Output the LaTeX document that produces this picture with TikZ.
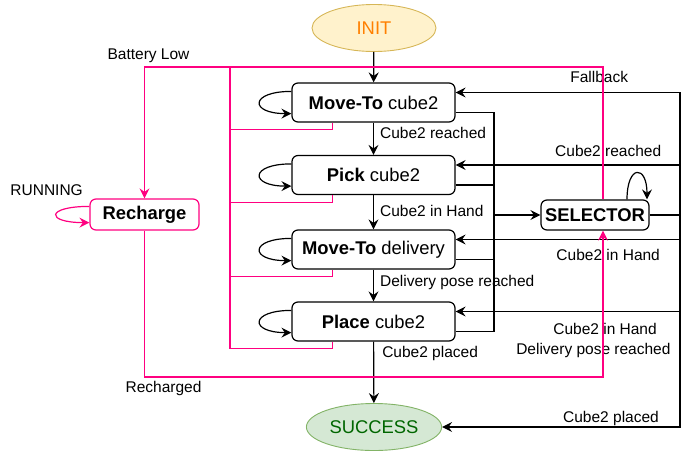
\documentclass[tikz,border=0pt]{standalone}
\usepackage{fontspec}
\setmainfont{Liberation Sans}
\usetikzlibrary{arrows.meta,shapes.geometric}

\definecolor{battery}{HTML}{FF0080}
\definecolor{initfill}{HTML}{FFF2CC}
\definecolor{initdraw}{HTML}{D6B656}
\definecolor{inittext}{HTML}{FF8000}
\definecolor{donefill}{HTML}{D5E8D4}
\definecolor{donedraw}{HTML}{82B366}
\definecolor{donetext}{HTML}{006600}

\begin{document}
\begin{tikzpicture}[
	x=1pt, y=-1pt,
	lbl/.style = {font=\fontsize{15.5}{18}\selectfont, inner sep=1pt},
	state/.style = {
		shape=rectangle, rounded corners=6pt,
		draw, line width=1.2pt, inner sep=0pt,
		minimum width=163pt, minimum height=39pt,
		font=\fontsize{18.4}{21}\selectfont},
	term/.style = {
		shape=ellipse, draw, line width=0.9pt,
		minimum width=124pt, minimum height=47pt,
		font=\fontsize{18.4}{21}\selectfont},
	line/.style = {line width=1.2pt},
	arr/.style = {line, -{Stealth[length=10pt,width=10pt,inset=3.5pt]}},
	pline/.style = {line, draw=battery},
	parr/.style = {arr, draw=battery}]

	\useasboundingbox (0,0) rectangle (684,450);

	% states
	\node[term, fill=initfill, draw=initdraw, text=inittext] (init) at (374,28) {INIT};
	\node[state] (mt) at (373.5,102.5) {\textbf{Move-To} cube2};
	\node[state] (pk) at (373.5,175) {\textbf{Pick} cube2};
	\node[state] (md) at (373.5,249.5) {\textbf{Move-To} delivery};
	\node[state] (pl) at (373.5,321.5) {\textbf{Place} cube2};
	\node[term, fill=donefill, draw=donedraw, text=donetext] (done) at (374,427) {SUCCESS};
	\node[state, draw=battery, minimum width=109pt, minimum height=31pt] (rc) at (144.5,214.5) {\textbf{Recharge}};
	\node[state, minimum width=108pt, minimum height=30pt] (sel) at (595,215) {\textbf{SELECTOR}};

	\coordinate (lbus) at (494,215);
	\coordinate (rbus) at (680,215);
	\coordinate (bat) at (230,67);
	\coordinate (rchg) at (603,377);

	% main sequence
	\draw[arr] (init) -- (mt);
	\draw[arr] (mt) -- node[lbl, right=5pt, pos=0.32] {Cube2 reached} (pk);
	\draw[arr] (pk) -- node[lbl, right=5pt, pos=0.47] {Cube2 in Hand} (md);
	\draw[arr] (md) -- node[lbl, right=5pt, pos=0.42] {Delivery pose reached} (pl);
	\draw[arr] (pl) -- node[lbl, right=7pt, pos=0.19] {Cube2 placed} (done);

	% running loops, selector bus, battery checks
	\foreach \b in {mt,pk,md,pl} {
		\draw[arr] ([yshift=-9pt]\b.north west) .. controls +(-42,0) and +(-42,0) .. ([yshift=9pt]\b.south west);
		\draw[line] ([yshift=-10pt]\b.east) -| (lbus);
		\draw[pline] ([xshift=41pt]\b.south west) -- ++(0,7) -| (bat);
	}
	\draw[arr] (lbus) -- (sel);

	% selector
	\draw[arr] ([xshift=32pt]sel.north) .. controls +(0,-35) and +(0,-35) .. ([xshift=52pt]sel.north);
	\draw[line] (sel) -- (rbus);
	\draw[arr] (rbus) |- ([yshift=10pt]mt.east) node[lbl, above=8pt, pos=0.68] {Fallback};
	\draw[arr] (rbus) |- ([yshift=10pt]pk.east) node[lbl, above=7pt, pos=0.66] {Cube2 reached};
	\draw[arr] (rbus) |- ([yshift=10pt]md.east) node[lbl, below=8pt, pos=0.66] {Cube2 in Hand};
	\draw[arr] (rbus) |- ([yshift=10pt]pl.east)
		node[lbl, below=10pt, pos=0.667] {Cube2 in Hand}
		node[lbl, below=30pt, pos=0.693] {Delivery pose reached};
	\draw[arr] (rbus) |- (done) node[lbl, above=0pt, pos=0.645] {Cube2 placed};

	% recharge
	\draw[pline] ([xshift=8pt]sel.north) |- (bat);
	\draw[parr] (bat) -| (rc) node[lbl, above=3pt, xshift=4pt, pos=0.5] {Battery Low};
	\draw[parr] ([yshift=-8pt]rc.north west) .. controls +(-44,0) and +(-44,0) .. ([yshift=8pt]rc.south west)
		node[lbl, at start, anchor=south east, xshift=-5pt, yshift=9pt] {RUNNING};
	\draw[parr] (rc) |- (rchg) node[lbl, below=3pt, xshift=19pt, pos=0.5] {Recharged} -- ([xshift=8pt]sel.south);
\end{tikzpicture}
\end{document}
